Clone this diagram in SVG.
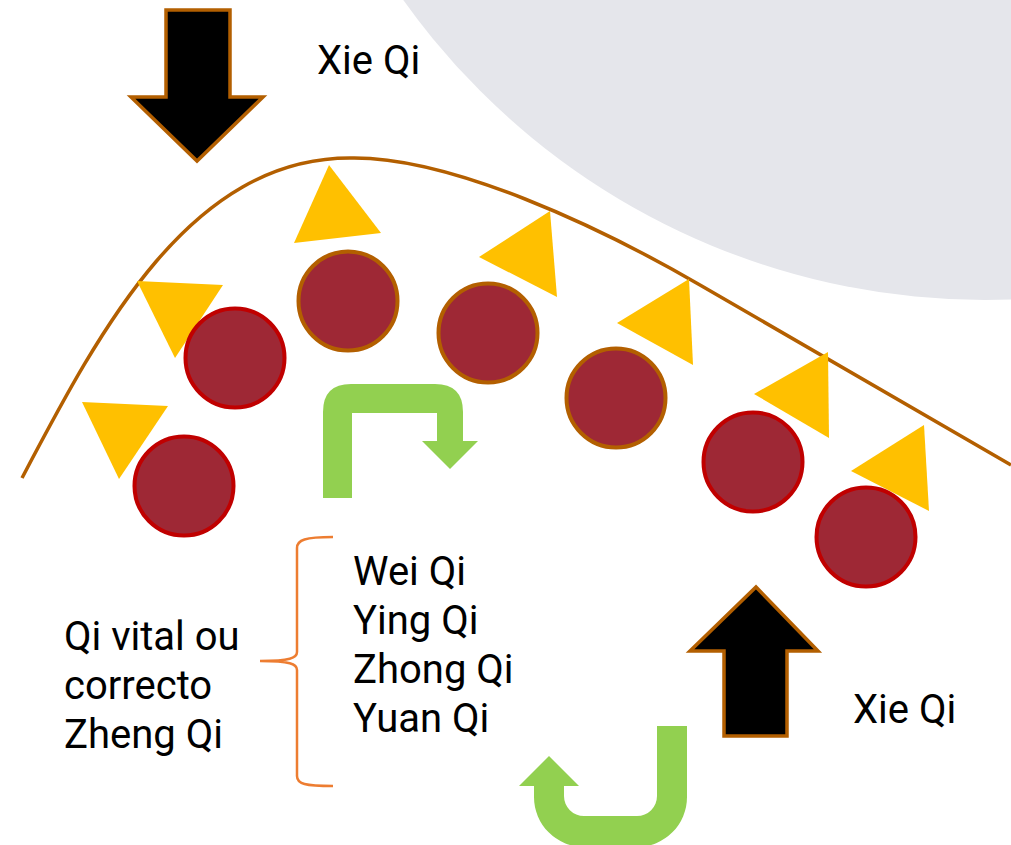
<svg xmlns="http://www.w3.org/2000/svg" width="1011" height="845" viewBox="0 0 1011 845">
<style>
.t{font-family:Roboto,"Liberation Sans",sans-serif;font-size:40px;fill:#000}
.tri{fill:#FFC000}
.ball{fill:#9E2835;stroke-width:4}
.red{stroke:#C00000}
.brn{stroke:#B35F00}
.blk{fill:#000;stroke:#B35F00;stroke-width:3.5}
.grn{fill:#92D050}
</style>
<rect width="1011" height="845" fill="#fff"/>
<circle id="bg" cx="985" cy="-414" r="714" fill="#E5E6EB"/>
<g id="connectors">
<path id="curve" d="M22,478 C100,330 190,158 350,158 C450,156 600,227 700,285 L1011,465" fill="none" stroke="#B35F00" stroke-width="3.5"/>
<path id="brace" d="M333,537 C305,537 297,540 297,548 L297,652 C297,658 290,661 260,661 C290,661 297,664 297,670 L297,776 C297,784 305,786 333,786" fill="none" stroke="#ED7D31" stroke-width="2.5"/>
</g>
<g id="triangles">
<polygon class="tri" points="329,165 381,233 294,243"/>
<polygon class="tri" points="137,281 223,285 175,358"/>
<polygon class="tri" points="82,402 168,406 119,479"/>
<polygon class="tri" points="550,211 557,297 479,257"/>
<polygon class="tri" points="689,279 693,365 617,323"/>
<polygon class="tri" points="828,352 829,438 754,394"/>
<polygon class="tri" points="924,425 929,511 851,471"/>
</g>
<g id="balls">
<circle class="ball red" cx="235" cy="358" r="49.5"/>
<circle class="ball red" cx="184" cy="486" r="49.5"/>
<circle class="ball brn" cx="348" cy="301" r="49.5"/>
<circle class="ball brn" cx="488" cy="333" r="49.5"/>
<circle class="ball brn" cx="616" cy="398" r="49.5"/>
<circle class="ball red" cx="753" cy="462" r="49.5"/>
<circle class="ball red" cx="866" cy="537" r="49.5"/>
</g>
<g id="arrow-down">
<polygon class="blk" points="166,10 230,10 230,97 263,97 197,161 131,97 166,97"/>
</g>
<g id="arrow-up">
<polygon class="blk" points="724,736 787,736 787,651 818,651 756,587 690,651 724,651"/>
</g>
<g id="green-arrow-1">
<path class="grn" d="M323,498 L323,412 Q323,384 351,384 L435,384 Q463,384 463,412 L463,441 L478,441 L450,469 L422,441 L437,441 L437,413 L352,413 L352,498 Z"/>
</g>
<g id="green-arrow-2">
<path class="grn" d="M657,726 L687,726 L687,797 A50,50 0 0 1 637,847 L584,847 A50,50 0 0 1 534,797 L534,786 L519,786 L549,756 L579,786 L564,786 L564,796 A20,20 0 0 0 584,816 L637,816 A20,20 0 0 0 657,796 Z"/>
</g>
<g id="label-xie-top"><text class="t" x="317" y="74">Xie Qi</text></g>
<g id="label-xie-bottom"><text class="t" x="853" y="723">Xie Qi</text></g>
<g id="label-list">
<text class="t" x="353" y="585">Wei Qi</text>
<text class="t" x="353" y="634">Ying Qi</text>
<text class="t" x="353" y="683">Zhong Qi</text>
<text class="t" x="353" y="732">Yuan Qi</text>
</g>
<g id="label-zheng">
<text class="t" x="64" y="650">Qi vital ou</text>
<text class="t" x="64" y="699">correcto</text>
<text class="t" x="64" y="748">Zheng Qi</text>
</g>
</svg>
